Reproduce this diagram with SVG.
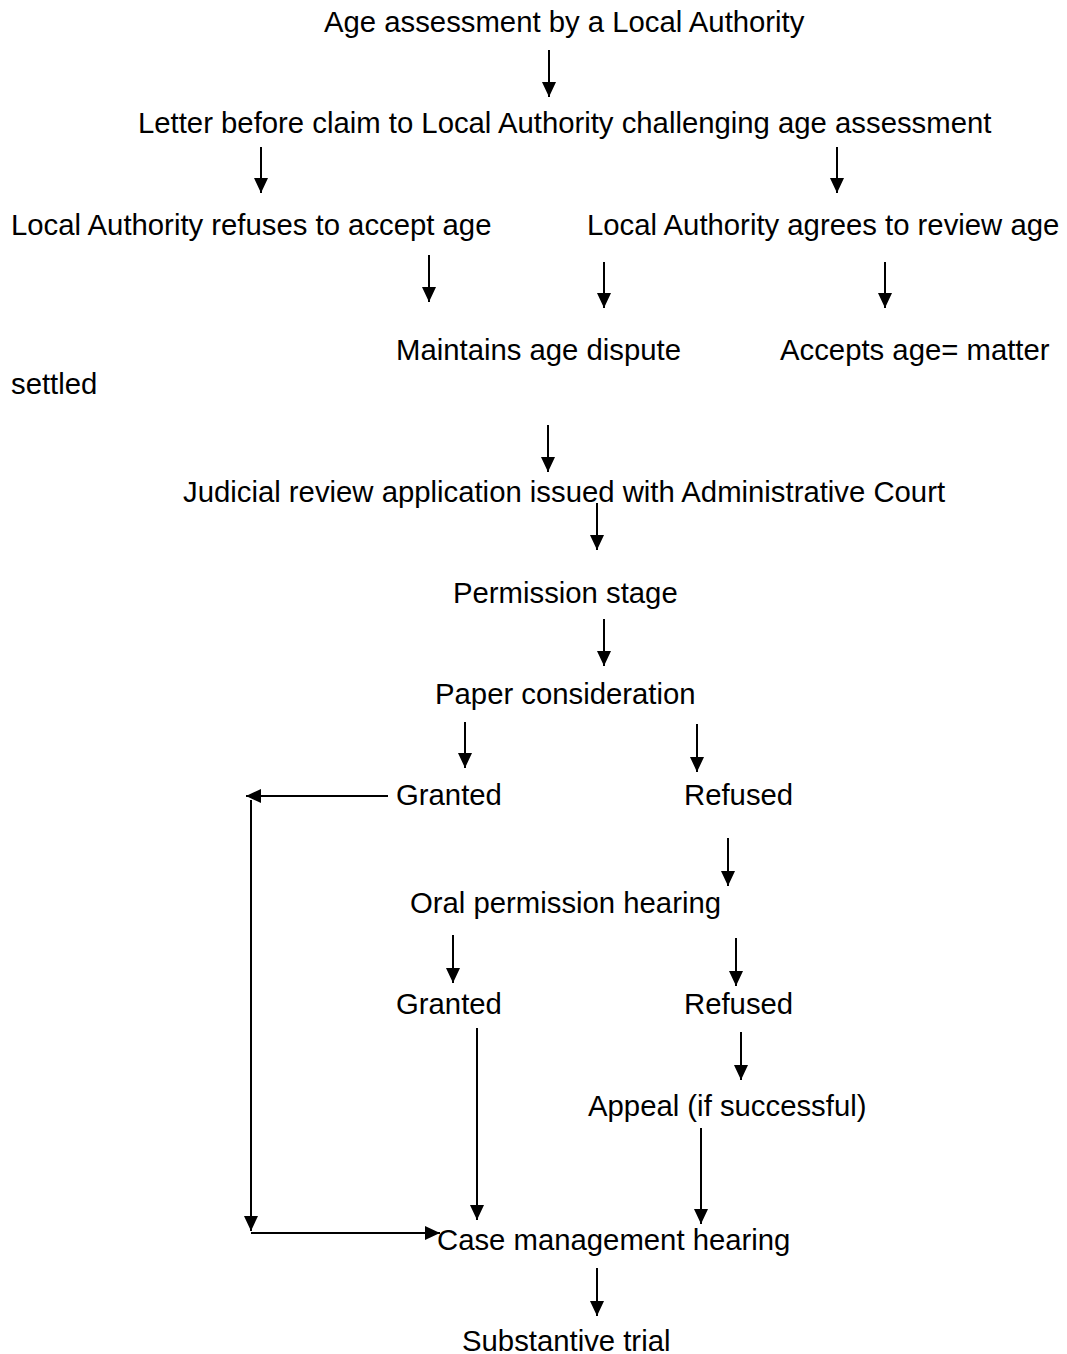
<svg xmlns="http://www.w3.org/2000/svg" width="1067" height="1354" viewBox="0 0 1067 1354">
<style>
text{font-family:"Liberation Sans",Arial,sans-serif;font-size:29.3px;fill:#000}
.c line{stroke:#000;stroke-width:2;fill:none}
</style>
<defs>
<marker id="ah" viewBox="0 0 15 14" refX="15" refY="7" markerWidth="15" markerHeight="14" markerUnits="userSpaceOnUse" orient="auto">
<path d="M0,0 L15,7 L0,14 Z" fill="#000"/>
</marker>
</defs>
<rect width="1067" height="1354" fill="#fff"/>
<g id="n1"><text x="324" y="32">Age assessment by a Local Authority</text></g>
<g id="n2"><text x="138" y="133">Letter before claim to Local Authority challenging age assessment</text></g>
<g id="n3"><text x="11" y="235">Local Authority refuses to accept age</text></g>
<g id="n4"><text x="587" y="235">Local Authority agrees to review age</text></g>
<g id="n5"><text x="396" y="360">Maintains age dispute</text></g>
<g id="n6"><text x="780" y="360">Accepts age= matter</text><text x="11" y="394">settled</text></g>
<g id="n7"><text x="183" y="502">Judicial review application issued with Administrative Court</text></g>
<g id="n8"><text x="453" y="603">Permission stage</text></g>
<g id="n9"><text x="435" y="704">Paper consideration</text></g>
<g id="n10"><text x="396" y="805">Granted</text></g>
<g id="n11"><text x="684" y="805">Refused</text></g>
<g id="n12"><text x="410" y="913">Oral permission hearing</text></g>
<g id="n13"><text x="396" y="1014">Granted</text></g>
<g id="n14"><text x="684" y="1014">Refused</text></g>
<g id="n15"><text x="588" y="1116">Appeal (if successful)</text></g>
<g id="n16"><text x="437" y="1250">Case management hearing</text></g>
<g id="n17"><text x="462" y="1351">Substantive trial</text></g>
<g id="connectors" class="c">
<line x1="549" y1="50" x2="549" y2="97" marker-end="url(#ah)"/>
<line x1="261" y1="147" x2="261" y2="193" marker-end="url(#ah)"/>
<line x1="837" y1="147" x2="837" y2="193" marker-end="url(#ah)"/>
<line x1="429" y1="255" x2="429" y2="302" marker-end="url(#ah)"/>
<line x1="604" y1="262" x2="604" y2="308" marker-end="url(#ah)"/>
<line x1="885" y1="262" x2="885" y2="308" marker-end="url(#ah)"/>
<line x1="548" y1="425" x2="548" y2="472" marker-end="url(#ah)"/>
<line x1="597" y1="503" x2="597" y2="550" marker-end="url(#ah)"/>
<line x1="604" y1="619" x2="604" y2="666" marker-end="url(#ah)"/>
<line x1="465" y1="722" x2="465" y2="768" marker-end="url(#ah)"/>
<line x1="697" y1="724" x2="697" y2="772" marker-end="url(#ah)"/>
<line x1="388" y1="796" x2="246" y2="796" marker-end="url(#ah)"/>
<line x1="251" y1="800" x2="251" y2="1231" marker-end="url(#ah)"/>
<line x1="251" y1="1233" x2="440" y2="1233" marker-end="url(#ah)"/>
<line x1="728" y1="838" x2="728" y2="886" marker-end="url(#ah)"/>
<line x1="453" y1="935" x2="453" y2="983" marker-end="url(#ah)"/>
<line x1="736" y1="938" x2="736" y2="986" marker-end="url(#ah)"/>
<line x1="477" y1="1028" x2="477" y2="1220" marker-end="url(#ah)"/>
<line x1="741" y1="1032" x2="741" y2="1080" marker-end="url(#ah)"/>
<line x1="701" y1="1128" x2="701" y2="1224" marker-end="url(#ah)"/>
<line x1="597" y1="1268" x2="597" y2="1316" marker-end="url(#ah)"/>
</g>
</svg>
